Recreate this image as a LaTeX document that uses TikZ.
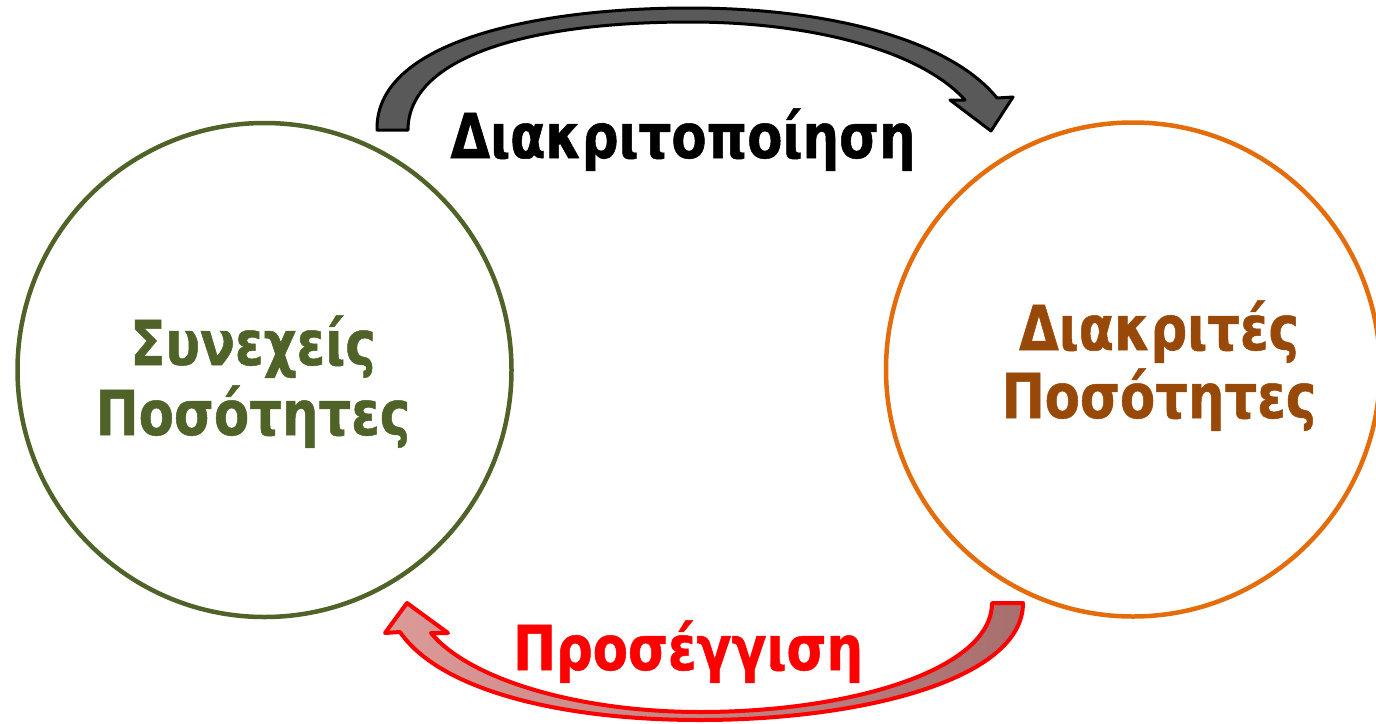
\documentclass[tikz,border=0pt]{standalone}
\usepackage{fontspec}
\setmainfont{DejaVu Sans Condensed}[BoldFont={DejaVu Sans Condensed Bold}, BoldFeatures={FakeStretch=0.92, FakeBold=0.8}]
\usetikzlibrary{shapes.geometric}
\definecolor{olivegr}{HTML}{4F6228}
\definecolor{orangeC}{HTML}{E46C0A}
\definecolor{brownT}{HTML}{984807}
\definecolor{grayA}{HTML}{595959}
\definecolor{pinkL}{HTML}{DC9A98}
\definecolor{pinkD}{HTML}{A86F6F}
\tikzset{
  ring/.style={circle, draw, line width=4.5pt, minimum size=494pt, inner sep=0pt},
  lbl/.style={font=\fontsize{62}{70}\selectfont\bfseries, anchor=base, inner sep=0pt},
}
\begin{document}
\begin{tikzpicture}[x=1pt,y=-1pt]
\useasboundingbox (0,0) rectangle (1376,723);
\node[ring, draw=olivegr] (L) at (264.5,370) {};
\node[ring, draw=orangeC] (R) at (1133,369.5) {};
\node[lbl, text=olivegr] (l1) at (253,365) {Συνεχείς};
\node[lbl, text=olivegr] (l2) at (253,435) {Ποσότητες};
\node[lbl, text=brownT] (r1) at (1159,350) {Διακριτές};
\node[lbl, text=brownT] (r2) at (1159,418) {Ποσότητες};
% top arrow
\draw[line width=3pt, fill=grayA, line join=round]
  (377,130) .. controls (375,40) and (540,8) .. (690,8)
  .. controls (830,8) and (950,40) .. (997,98)
  -- (1013,97) -- (991,131) -- (950,100) -- (965,100)
  .. controls (920,50) and (810,22) .. (690,22)
  .. controls (520,22) and (408,60) .. (408,130) -- cycle;
% bottom arrow
\draw[line width=4pt, draw=red, left color=pinkL, right color=pinkD, line join=round]
  (1023,603) .. controls (1023,680) and (860,720) .. (700,720)
  .. controls (560,720) and (440,690) .. (400,632)
  -- (385,633) -- (407,603) -- (448,633) -- (431,633)
  .. controls (470,680) and (580,712) .. (700,712)
  .. controls (850,712) and (992,670) .. (992,603) -- cycle;
\node[lbl, text=black] (t) at (683,158) {Διακριτοποίηση};
\node[lbl, text=red] (b) at (688,670) {Προσέγγιση};
\end{tikzpicture}
\end{document}
